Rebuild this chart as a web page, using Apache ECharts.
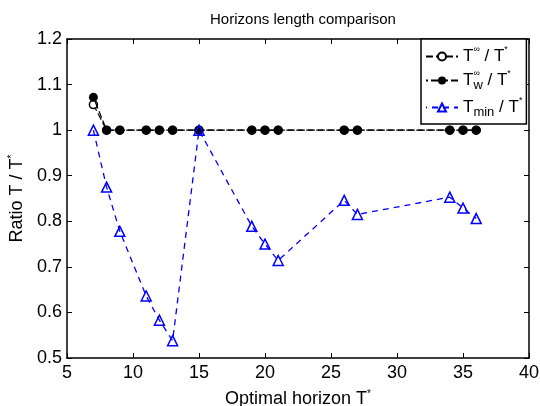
<!DOCTYPE html>
<html>
<head>
<meta charset="utf-8">
<script src="https://cdn.jsdelivr.net/npm/echarts@6/dist/echarts.min.js"></script>
<style>
  html, body { margin: 0; padding: 0; background: #fff; }
  #main { width: 540px; height: 406px; }
</style>
</head>
<body>
<div id="main"></div>
<script>
// optimal horizon T* (x values)
const tStar = [7, 8, 9, 11, 12, 13, 15, 19, 20, 21, 26, 27, 34, 35, 36];
// T∞ / T*
const ratioInf = [1.056, 1, 1, 1, 1, 1, 1, 1, 1, 1, 1, 1, 1, 1, 1];
// Tw∞ / T*
const ratioWInf = [1.072, 1, 1, 1, 1, 1, 1, 1, 1, 1, 1, 1, 1, 1, 1];
// Tmin / T*
const ratioMin = [1.0, 0.875, 0.778, 0.636, 0.583, 0.538, 1.0, 0.789, 0.75, 0.714, 0.846, 0.815, 0.853, 0.829, 0.806];

const xTicks = { min: 5, max: 40, interval: 5 };
const yTicks = { min: 0.5, max: 1.2, interval: 0.1 };

const FONT = "Liberation Sans";

function pairs(xs, ys) {
  return xs.map(function (x, i) { return [x, ys[i]]; });
}

const chart = echarts.init(document.getElementById("main"));

const axisCommon = {
  axisLine: { show: true, onZero: false, lineStyle: { color: "#000", width: 1.5 } },
  axisTick: { show: true, inside: true, length: 5, lineStyle: { color: "#000", width: 1 } },
  splitLine: { show: false },
};

const option = {
  backgroundColor: "#fff",
  animation: false,
  title: {
    text: "Horizons length comparison",
    left: 298,
    textAlign: "center",
    top: 7,
    textStyle: { fontFamily: FONT, fontSize: 15, fontWeight: "normal", color: "#000" },
  },
  grid: { left: 67, right: 11, top: 39, bottom: 48, outerBoundsMode: "none", containLabel: false },
  legend: {
    orient: "vertical",
    left: 421,
    top: 39,
    width: 105,
    backgroundColor: "#fff",
    borderColor: "#000",
    borderWidth: 1.5,
    borderRadius: 0,
    padding: [6, 4, 5, 4],
    itemGap: 4,
    itemWidth: 32,
    itemHeight: 10,
    align: "left",
    data: ["inf", "winf", "min"],
    formatter: function (name) {
      if (name === "inf") return "{n|T}{sup|∞}{n| / T}{sup|*}";
      if (name === "winf") return "{n|T}{sup0|∞}{sub|w}{n| / T}{sup|*}";
      return "{n|T}{sub|min}{n| / T}{sup|*}";
    },
    textStyle: {
      fontFamily: FONT,
      color: "#000",
      rich: {
        n: { fontFamily: FONT, fontSize: 17, lineHeight: 23, color: "#000" },
        sup: { fontFamily: FONT, fontSize: 9, lineHeight: 9, verticalAlign: "top", color: "#000" },
        sup0: { fontFamily: FONT, fontSize: 9, lineHeight: 9, verticalAlign: "top", width: 0, color: "#000" },
        sub: { fontFamily: FONT, fontSize: 13, lineHeight: 13, verticalAlign: "bottom", color: "#000" },
      },
    },
  },
  xAxis: [
    Object.assign({
      type: "value",
      position: "bottom",
      min: xTicks.min,
      max: xTicks.max,
      interval: xTicks.interval,
      name: "{a|Optimal horizon T}{s|*}",
      nameLocation: "middle",
      nameGap: 31,
      nameTextStyle: {
        rich: {
          a: { fontFamily: FONT, fontSize: 18, color: "#000", lineHeight: 20 },
          s: { fontFamily: FONT, fontSize: 10, color: "#000", verticalAlign: "top", lineHeight: 10 },
        },
      },
      axisLabel: { fontFamily: FONT, fontSize: 18, color: "#000", margin: 6 },
    }, axisCommon),
    Object.assign({
      type: "value",
      position: "top",
      min: xTicks.min,
      max: xTicks.max,
      interval: xTicks.interval,
      axisLabel: { show: false },
    }, axisCommon),
  ],
  yAxis: [
    Object.assign({
      type: "value",
      position: "left",
      min: yTicks.min,
      max: yTicks.max,
      interval: yTicks.interval,
      name: "{a|Ratio T / T}{s|*}",
      nameLocation: "middle",
      nameGap: 38,
      nameRotate: 90,
      nameTextStyle: {
        rich: {
          a: { fontFamily: FONT, fontSize: 18, color: "#000", lineHeight: 20 },
          s: { fontFamily: FONT, fontSize: 10, color: "#000", verticalAlign: "top", lineHeight: 10 },
        },
      },
      axisLabel: {
        fontFamily: FONT, fontSize: 18, color: "#000", margin: 5,
        formatter: function (v) { return String(Math.round(v * 10) / 10); },
      },
    }, axisCommon),
    Object.assign({
      type: "value",
      position: "right",
      min: yTicks.min,
      max: yTicks.max,
      interval: yTicks.interval,
      axisLabel: { show: false },
    }, axisCommon),
  ],
  series: [
    {
      name: "inf",
      type: "line",
      data: pairs(tStar, ratioInf),
      symbol: "circle",
      symbolSize: 8,
      itemStyle: { color: "#fff", borderColor: "#000", borderWidth: 1.5 },
      lineStyle: { color: "#000", width: 1.2, type: [7, 3] },
      z: 3,
    },
    {
      name: "winf",
      type: "line",
      data: pairs(tStar, ratioWInf),
      symbol: "circle",
      symbolSize: 9,
      itemStyle: { color: "#000", borderColor: "#000", borderWidth: 0 },
      lineStyle: { color: "#000", width: 1.2, type: [7, 3], dashOffset: 5 },
      z: 4,
    },
    {
      name: "min",
      type: "line",
      data: pairs(tStar, ratioMin),
      symbol: "triangle",
      symbolSize: 10,
      itemStyle: { color: "rgba(255,255,255,0)", borderColor: "#0000ff", borderWidth: 1.5 },
      lineStyle: { color: "#0000ff", width: 1.3, type: [6, 5] },
      z: 5,
    },
  ],
};

chart.setOption(option);
</script>
</body>
</html>
